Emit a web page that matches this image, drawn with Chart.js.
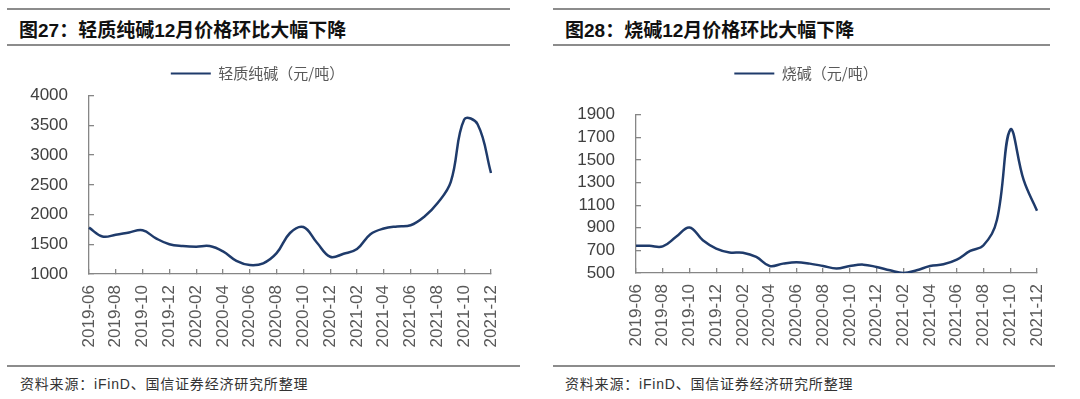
<!DOCTYPE html>
<html>
<head>
<meta charset="utf-8">
<script src="https://cdn.jsdelivr.net/npm/chart.js@4"></script>
<style>
  body { margin: 0; width: 1080px; height: 399px; background: #fff; position: relative; overflow: hidden; }
  .rule { position: absolute; height: 0; border-top: 2px solid #8c8c8c; }
  .title { position: absolute; font: bold 19px "Liberation Sans", "Noto Sans CJK SC", sans-serif; color: #111; white-space: nowrap; }
  .foot { position: absolute; font: 14px "Liberation Sans", "Noto Sans CJK SC", sans-serif; color: #333; letter-spacing: 0.8px; white-space: nowrap; }
  .box { position: absolute; top: 50px; width: 540px; height: 315px; }
</style>
</head>
<body>
<div class="rule" style="left:7px;width:503px;top:8px"></div>
<div class="rule" style="left:7px;width:503px;top:44px"></div>
<div class="title" style="left:19px;top:15px">图27：轻质纯碱12月价格环比大幅下降</div>
<div class="rule" style="left:7px;width:513px;top:365px"></div>
<div class="foot" style="left:20px;top:373px">资料来源：iFinD、国信证券经济研究所整理</div>

<div class="rule" style="left:553px;width:497px;top:8px"></div>
<div class="rule" style="left:553px;width:497px;top:44px"></div>
<div class="title" style="left:565px;top:15px">图28：烧碱12月价格环比大幅下降</div>
<div class="rule" style="left:553px;width:502px;top:365px"></div>
<div class="foot" style="left:565px;top:373px">资料来源：iFinD、国信证券经济研究所整理</div>

<div class="box" style="left:0"><canvas id="c1"></canvas></div>
<div class="box" style="left:540px"><canvas id="c2"></canvas></div>

<script>
// 月份 2019-06 ~ 2021-12
const months = [
  '2019-06','2019-07','2019-08','2019-09','2019-10','2019-11','2019-12',
  '2020-01','2020-02','2020-03','2020-04','2020-05','2020-06','2020-07','2020-08','2020-09','2020-10','2020-11','2020-12',
  '2021-01','2021-02','2021-03','2021-04','2021-05','2021-06','2021-07','2021-08','2021-09','2021-10','2021-11','2021-12'
];

// 轻质纯碱（元/吨）
const sodaAsh = [1780, 1630, 1660, 1700, 1735, 1600, 1500, 1470, 1460, 1470, 1380, 1220, 1150, 1180, 1350, 1690, 1790,
  1530, 1290, 1340, 1420, 1670, 1765, 1800, 1820, 1960, 2190, 2550, 3600, 3520, 2700];

// 烧碱（元/吨）
const causticSoda = [740, 740, 735, 820, 903, 790, 716, 682, 680, 642, 562, 583, 595, 583, 562, 540, 562, 574,
  553, 524, 500, 524, 562, 577, 618, 695, 745, 968, 1767, 1323, 1050];

const lineColor = '#1f3b6b';
const axisColor = '#868686';
const tickFont = { family: '"Liberation Sans", Arial, sans-serif', size: 17 };

// 坐标轴刻度线朝内
function makeChart(id, label, values, yMin, yMax, yStep, opt) {
  return new Chart(document.getElementById(id), {
    type: 'line',
    data: {
      labels: months,
      datasets: [{
        label: label,
        data: values,
        borderColor: lineColor,
        backgroundColor: lineColor,
        borderWidth: 2.5,
        pointRadius: 0,
        tension: 0.4,
        fill: false
      }]
    },
    options: {
      responsive: true,
      maintainAspectRatio: false,
      animation: false,
      layout: { padding: { top: opt.padTop, left: opt.padLeft, right: opt.padRight, bottom: 0 } },
      plugins: {
        tooltip: { enabled: false },
        legend: {
          position: 'top',
          labels: {
            boxWidth: 40,
            boxHeight: 2,
            padding: 6,
            color: '#595959',
            font: { family: '"Noto Sans CJK SC", sans-serif', size: 15 },
            generateLabels: function(chart) {
              const items = Chart.defaults.plugins.legend.labels.generateLabels(chart);
              items.forEach(function(it) { it.lineWidth = 0; });
              return items;
            }
          }
        },
        subtitle: {
          display: true,
          text: '',
          weight: 500,
          font: { size: 1 },
          padding: { top: opt.gap, bottom: 0 }
        }
      },
      scales: {
        x: {
          border: { display: true, color: axisColor, width: 1.3 },
          grid: {
            drawOnChartArea: false,
            drawTicks: true,
            tickLength: -5,
            color: function(ctx) { return ctx.index % 2 === 0 ? axisColor : 'rgba(0,0,0,0)'; },
            lineWidth: 1.3
          },
          ticks: {
            autoSkip: false,
            maxRotation: 90,
            minRotation: 90,
            padding: 16,
            color: '#595959',
            font: tickFont,
            callback: function(v, i) { return i % 2 === 0 ? months[i] : ''; }
          },
          afterFit: function(s) { s.height = opt.xHeight; }
        },
        y: {
          min: yMin,
          max: yMax,
          border: { display: true, color: axisColor, width: 1.3 },
          grid: { drawOnChartArea: false, drawTicks: true, tickLength: -5, color: axisColor, lineWidth: 1.3 },
          ticks: {
            stepSize: yStep,
            autoSkip: false,
            padding: 26,
            color: '#404040',
            font: tickFont,
            callback: function(v) { return String(v); }
          },
          afterFit: function(s) { s.width = opt.yWidth; }
        }
      }
    }
  });
}

makeChart('c1', '轻质纯碱（元/吨）', sodaAsh, 1000, 4000, 500,
  { padTop: 10, padLeft: 24, padRight: 49, gap: 3.5, xHeight: 91, yWidth: 65 });
makeChart('c2', '烧碱（元/吨）', causticSoda, 500, 1900, 200,
  { padTop: 10, padLeft: 35, padRight: 43, gap: 22.5, xHeight: 92, yWidth: 61 });
</script>
</body>
</html>
